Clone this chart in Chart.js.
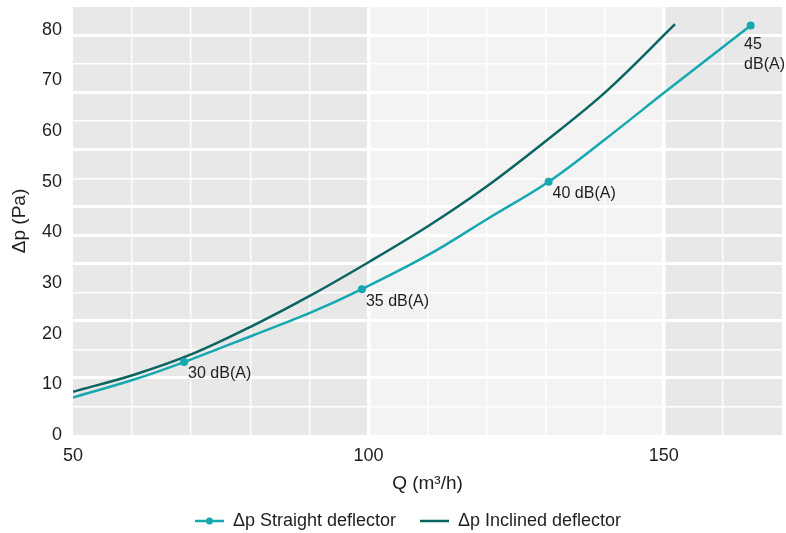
<!DOCTYPE html>
<html>
<head>
<meta charset="utf-8">
<script src="https://cdn.jsdelivr.net/npm/chart.js@4.4.1/dist/chart.umd.min.js"></script>
<style>
html,body{margin:0;padding:0;background:#ffffff;}
#wrap{width:786px;height:533px;position:relative;}
</style>
</head>
<body>
<div id="wrap"><canvas id="c" width="786" height="533"></canvas></div>
<script>
// ---- data ----
const straightQ      = [50, 60.2, 68.8, 80.3, 90.3, 98.9, 110.2, 120.2, 130.5, 140.3, 150.3, 164.7];
const straightDp     = [7.4, 10.9, 14.4, 19.6, 24.2, 28.8, 35.6, 42.7, 50.0, 58.6, 67.8, 80.85];
const straightLabels = ['', '', '30 dB(A)', '', '', '35 dB(A)', '', '', '40 dB(A)', '', '', '45 dB(A)'];

const inclinedQ  = [50, 60.2, 70.2, 80.3, 90.3, 100.3, 110.2, 119.7, 130.3, 140.3, 151.9];
const inclinedDp = [8.55, 11.85, 16.0, 21.5, 27.6, 34.3, 41.3, 48.8, 58.3, 67.9, 81.1];

const xTicks = [50, 100, 150];
const yTicks = [0, 10, 20, 30, 40, 50, 60, 70, 80];
const bandEdges = [50, 100, 150, 170];
const bandColors = ['#e8e8e8', '#f3f3f3', '#e8e8e8'];
const gridRows = 15;
const thickRows = [2, 4, 6, 7, 8, 10, 12, 14];

const seriesNames = ['\u0394p Straight deflector', '\u0394p Inclined deflector'];
const cyan = '#15a8b1';
const teal = '#0a6560';
const textColor = '#1e1e1e';
const FONT = '"Liberation Sans", Arial, sans-serif';

function pts(xs, ys) { return xs.map((x, i) => ({x: x, y: ys[i]})); }

// legend symbol: line with dot
const sym = document.createElement('canvas');
sym.width = 29; sym.height = 10;
(function(){
  const g = sym.getContext('2d');
  g.strokeStyle = cyan; g.lineWidth = 2.5;
  g.beginPath(); g.moveTo(0, 5); g.lineTo(29, 5); g.stroke();
  g.fillStyle = cyan; g.beginPath(); g.arc(14.5, 5, 3.5, 0, Math.PI * 2); g.fill();
})();

const bandPlugin = {
  id: 'bands',
  beforeDraw(chart) {
    const {ctx, chartArea: a, scales: {x}} = chart;
    ctx.save();
    for (let i = 0; i < bandColors.length; i++) {
      const x0 = x.getPixelForValue(bandEdges[i]);
      const x1 = x.getPixelForValue(bandEdges[i + 1]);
      ctx.fillStyle = bandColors[i];
      ctx.fillRect(x0, a.top, x1 - x0, a.bottom - a.top);
    }
    ctx.restore();
  }
};

const labelPlugin = {
  id: 'pointLabels',
  afterDatasetsDraw(chart) {
    const {ctx} = chart;
    const meta = chart.getDatasetMeta(0);
    ctx.save();
    ctx.font = '16px ' + FONT;
    ctx.fillStyle = textColor;
    ctx.textBaseline = 'middle';
    ctx.textAlign = 'left';
    straightLabels.forEach((lab, i) => {
      if (!lab) return;
      const el = meta.data[i];
      let lines = [lab];
      let tx = el.x + 4;
      if (tx + ctx.measureText(lab).width > chart.width) {
        lines = lab.split(' ');
        const w = Math.max(...lines.map(s => ctx.measureText(s).width));
        tx = Math.min(tx, chart.width - w - 1);
      }
      const y0 = el.y + 12 + (lines.length > 1 ? 7 : 0);
      lines.forEach((s, k) => ctx.fillText(s, tx, y0 + k * 20));
    });
    ctx.restore();
  }
};

const legendShift = {
  id: 'legendShift',
  afterLayout(chart) {
    if (chart.legend) { chart.legend.left += 17; chart.legend.right += 17; }
  }
};

new Chart(document.getElementById('c'), {
  type: 'line',
  data: {
    datasets: [
      {
        label: seriesNames[0],
        data: pts(straightQ, straightDp),
        borderColor: cyan,
        backgroundColor: cyan,
        borderWidth: 2.5,
        pointRadius: straightLabels.map(l => l ? 4 : 0),
        pointBackgroundColor: cyan,
        pointBorderWidth: 0,
        tension: 0.35,
        fill: false
      },
      {
        label: seriesNames[1],
        data: pts(inclinedQ, inclinedDp),
        borderColor: teal,
        backgroundColor: teal,
        borderWidth: 2.5,
        pointRadius: 0,
        tension: 0.35,
        fill: false
      }
    ]
  },
  options: {
    responsive: false,
    animation: false,
    events: [],
    layout: {padding: {left: 0, right: 4, top: 7, bottom: 0}},
    scales: {
      x: {
        type: 'linear', position: 'bottom', min: 50, max: 170,
        afterBuildTicks: s => { s.ticks = xTicks.map(v => ({value: v})); },
        afterFit: s => { s.height = 53; s.paddingLeft = 0; s.paddingRight = 0; },
        grid: {display: false, drawTicks: false},
        border: {display: false},
        ticks: {color: textColor, font: {family: FONT, size: 18}, padding: 10, maxRotation: 0, autoSkip: false},
        title: {display: true, text: 'Q (m\u00b3/h)', color: textColor, font: {family: FONT, size: 19}, padding: {top: 0, bottom: -7}}
      },
      y: {
        type: 'linear', position: 'left', min: 0, max: 84.5,
        afterBuildTicks: s => { s.ticks = yTicks.map(v => ({value: v})); },
        afterFit: s => { s.width = 73; s.paddingTop = 0; s.paddingBottom = 0; },
        grid: {display: false, drawTicks: false},
        border: {display: false},
        ticks: {color: textColor, font: {family: FONT, size: 18}, padding: 11},
        title: {display: true, text: '\u0394p (Pa)', color: textColor, font: {family: FONT, size: 19}, padding: {top: 8, bottom: 0}}
      },
      xg: {
        type: 'linear', position: 'bottom', min: 50, max: 170,
        afterFit: s => { s.height = 0; },
        ticks: {display: false, stepSize: 10, autoSkip: false},
        border: {display: false},
        grid: {
          drawTicks: false, color: '#ffffff',
          lineWidth: c => {
            const v = c.tick.value;
            if (v === 50 || v === 170) return 0;
            return (v === 100 || v === 150) ? 3.5 : 1.4;
          }
        }
      },
      yg: {
        type: 'linear', position: 'right', min: 0, max: gridRows,
        afterFit: s => { s.width = 0; },
        ticks: {display: false, stepSize: 1, autoSkip: false},
        border: {display: false},
        grid: {
          drawTicks: false, color: '#ffffff',
          lineWidth: c => {
            const v = c.tick.value;
            if (v === 0 || v === gridRows) return 0;
            return thickRows.includes(v) ? 3 : 1.4;
          }
        }
      }
    },
    plugins: {
      legend: {
        position: 'bottom', align: 'center', maxHeight: 45,
        labels: {
          usePointStyle: true, pointStyleWidth: 29, boxHeight: 10,
          padding: 24, color: textColor,
          font: {family: FONT, size: 18},
          generateLabels: chart => {
            const items = Chart.defaults.plugins.legend.labels.generateLabels(chart);
            items[0].pointStyle = sym;
            items[1].pointStyle = 'line';
            items[1].lineWidth = 2.5;
            return items;
          }
        }
      },
      tooltip: {enabled: false}
    }
  },
  plugins: [bandPlugin, labelPlugin, legendShift]
});
</script>
</body>
</html>
